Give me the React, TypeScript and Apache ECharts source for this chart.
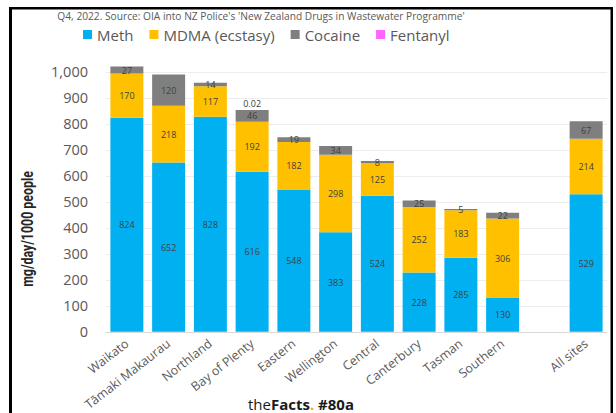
import React, { useEffect, useRef } from "react";
import * as echarts from "echarts";

const categories = [
  "Waikato",
  "Tāmaki Makaurau",
  "Northland",
  "Bay of Plenty",
  "Eastern",
  "Wellington",
  "Central",
  "Canterbury",
  "Tasman",
  "Southern",
  "",
  "All sites",
];
const meth: (number | string)[] = [824, 652, 828, 616, 548, 383, 524, 228, 285, 130, "-", 529];
const mdma: (number | string)[] = [170, 218, 117, 192, 182, 298, 125, 252, 183, 306, "-", 214];
const cocaine: (number | string)[] = [27, 120, 14, 46, 19, 34, 8, 25, 5, 22, "-", 67];
const fentanyl: (number | string)[] = [0, 0, 0, 0.02, 0, 0, 0, 0, 0, 0, "-", 0];
const yTicks = [0, 100, 200, 300, 400, 500, 600, 700, 800, 900, 1000];

const titleText = "Q4, 2022. Source: OIA into NZ Police's 'New Zealand Drugs in Wastewater Programme'";
const yName = "mg/day/1000 people";

const FONT = "'Open Sans', 'Noto Sans', sans-serif";

export default function App() {
  const ref = useRef<HTMLDivElement>(null);
  useEffect(() => {
    document.body.style.margin = "0";
    const chart = echarts.init(ref.current!, null, { renderer: "svg" });
    const dataLabel = {
      show: true,
      position: "inside",
      fontSize: 9,
      color: "#404040",
      fontFamily: FONT,
    };
    const option: any = {
      animation: false,
      backgroundColor: "#ffffff",
      textStyle: { fontFamily: FONT },
      legend: {
        left: 78,
        top: 22,
        icon: "rect",
        itemWidth: 9,
        itemHeight: 9,
        itemGap: 16,
        textStyle: { fontSize: 15, color: "#595959", fontFamily: FONT },
        data: ["Meth", "MDMA (ecstasy)", "Cocaine", "Fentanyl"],
      },
      grid: { left: 106, right: 9, top: 59, bottom: 78, containLabel: false },
      xAxis: {
        type: "category",
        data: categories,
        axisTick: { show: false },
        axisLine: { lineStyle: { color: "#D9D9D9", width: 1 } },
        axisLabel: {
          interval: 0,
          rotate: 38,
          fontSize: 12.5,
          color: "#595959",
          fontFamily: FONT,
          margin: 10,
        },
      },
      yAxis: {
        type: "value",
        min: yTicks[0],
        max: 1050,
        interval: 100,
        axisLine: { show: false },
        axisTick: { show: false },
        splitLine: { show: true, showMaxLine: false, lineStyle: { color: "#EDEDED" } },
        axisLabel: {
          showMaxLabel: false,
          fontSize: 14.5,
          color: "#595959",
          fontFamily: FONT,
          margin: 18,
          formatter: (v: number) => (yTicks.includes(v) ? v.toLocaleString("en-US") : ""),
        },
      },
      series: [
        {
          name: "Meth",
          type: "bar",
          stack: "total",
          barWidth: "79%",
          data: meth,
          itemStyle: { color: "#00B0F0" },
          label: dataLabel,
        },
        {
          name: "MDMA (ecstasy)",
          type: "bar",
          stack: "total",
          data: mdma,
          itemStyle: { color: "#FFC000" },
          label: dataLabel,
        },
        {
          name: "Cocaine",
          type: "bar",
          stack: "total",
          data: cocaine,
          itemStyle: { color: "#7F7F7F" },
          label: dataLabel,
        },
        {
          name: "Fentanyl",
          type: "bar",
          stack: "total",
          data: fentanyl,
          itemStyle: { color: "#FF66FF" },
          label: {
            show: true,
            position: "top",
            distance: 2,
            fontSize: 9,
            color: "#404040",
            fontFamily: FONT,
            formatter: (p: any) => (typeof p.value === "number" && p.value > 0 ? String(p.value) : ""),
          },
        },
      ],
      graphic: [
        {
          type: "text",
          x: 261,
          y: 11,
          style: {
            text: titleText,
            font: `10.2px ${FONT}`,
            fill: "#595959",
            textAlign: "center",
            textVerticalAlign: "top",
          },
        },
        {
          type: "text",
          x: 27,
          y: 229,
          rotation: Math.PI / 2,
          scaleX: 0.75,
          style: {
            text: yName,
            font: `bold 16.5px Roboto, sans-serif`,
            fill: "#262626",
            textAlign: "center",
            textVerticalAlign: "middle",
          },
        },
        {
          type: "text",
          x: 301,
          y: 404,
          style: {
            text: "{a|the}{b|Facts}{c|.}{b| #80a}",
            textAlign: "center",
            textVerticalAlign: "middle",
            rich: {
              a: { font: `15px ${FONT}`, fill: "#1a1a1a" },
              b: { font: `bold 15px ${FONT}`, fill: "#1a1a1a" },
              c: { font: `bold 15px ${FONT}`, fill: "#F5A623" },
            },
          },
        },
        { type: "rect", shape: { x: 9, y: 7, width: 3, height: 406 }, style: { fill: "#000" } },
        { type: "rect", shape: { x: 9, y: 7, width: 604, height: 2.5 }, style: { fill: "#000" } },
        { type: "rect", shape: { x: 610.5, y: 7, width: 2.5, height: 406 }, style: { fill: "#000" } },
      ],
    };
    chart.setOption(option);
    return () => chart.dispose();
  }, []);
  return <div ref={ref} style={{ width: 616, height: 413 }} />;
}
